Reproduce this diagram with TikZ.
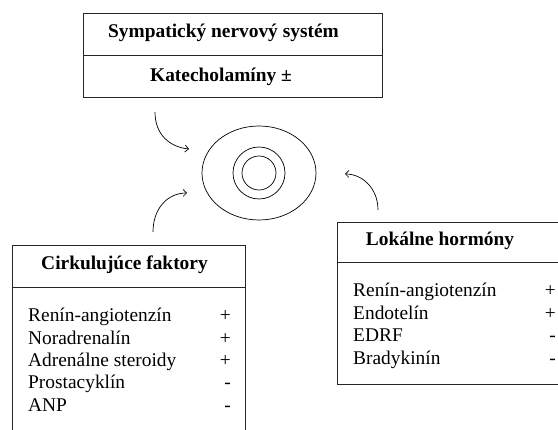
\documentclass[tikz,border=0pt]{standalone}
\usepackage{fontspec}
\setmainfont{Liberation Serif}
\usetikzlibrary{arrows.meta}
\begin{document}
\begin{tikzpicture}[x=1pt,y=-1pt,
  boxline/.style={line width=0.8pt,black!85},
  title/.style={font=\fontsize{19.4}{23}\selectfont\bfseries,inner sep=0pt,anchor=base},
  item/.style={font=\fontsize{19.4}{23}\selectfont,inner sep=0pt,anchor=base west},
  sign/.style={font=\fontsize{19.4}{23}\selectfont,inner sep=0pt,anchor=base east},
  ring/.style={line width=0.7pt},
  influence/.style={line width=0.7pt,-{Straight Barb[length=3.5pt,width=7pt]}}]
\clip (0,0) rectangle (558,430);

% sympathetic nervous system box
\draw[boxline] (83,13) rectangle (382,97);
\draw[boxline] (83,55) -- (382,55);
\node[title] (sns) at (223.5,38) {Sympatický nervový systém};
\node[title] (kat) at (221,82) {Katecholamíny ±};

% vessel cross-section
\draw[ring] (259,173) ellipse [x radius=57, y radius=47];
\draw[ring] (259,173) circle [radius=26];
\draw[ring] (259,173) circle [radius=17];

% circulating factors box
\draw[boxline] (12.7,245) rectangle (245.7,440);
\draw[boxline] (12.7,287) -- (245.7,287);
\node[title] (cf) at (124.5,270) {Cirkulujúce faktory};
\node[item] (cf1) at (28,321.7) {Renín-angiotenzín};
\node[item] (cf2) at (28,344.3) {Noradrenalín};
\node[item] (cf3) at (28,366.7) {Adrenálne steroidy};
\node[item] (cf4) at (28,389) {Prostacyklín};
\node[item] (cf5) at (28,411.7) {ANP};
\node[sign] (cs1) at (231,321.7) {+};
\node[sign] (cs2) at (231,344.3) {+};
\node[sign] (cs3) at (231,366.7) {+};
\node[sign] (cs4) at (231,389) {-};
\node[sign] (cs5) at (231,411.7) {-};

% local hormones box
\draw[boxline] (337,222) rectangle (570,384);
\draw[boxline] (337,262) -- (570,262);
\node[title] (lh) at (440,246) {Lokálne hormóny};
\node[item] (lh1) at (353,297) {Renín-angiotenzín};
\node[item] (lh2) at (353,320) {Endotelín};
\node[item] (lh3) at (353,342) {EDRF};
\node[item] (lh4) at (353,365) {Bradykinín};
\node[sign] (ls1) at (556,297) {+};
\node[sign] (ls2) at (556,320) {+};
\node[sign] (ls3) at (556,342) {-};
\node[sign] (ls4) at (556,365) {-};

% influences acting on the vessel wall
\coordinate (a1) at (155,112);
\coordinate (b1) at (189,149);
\coordinate (a2) at (153,232);
\coordinate (b2) at (187,193);
\coordinate (a3) at (378,210);
\coordinate (b3) at (345,174);
\draw[influence] (a1) .. controls (155,135) and (170,147) .. (b1);
\draw[influence] (a2) .. controls (153,208) and (168,193) .. (b2);
\draw[influence] (a3) .. controls (378,188) and (362,174) .. (b3);
\end{tikzpicture}
\end{document}
